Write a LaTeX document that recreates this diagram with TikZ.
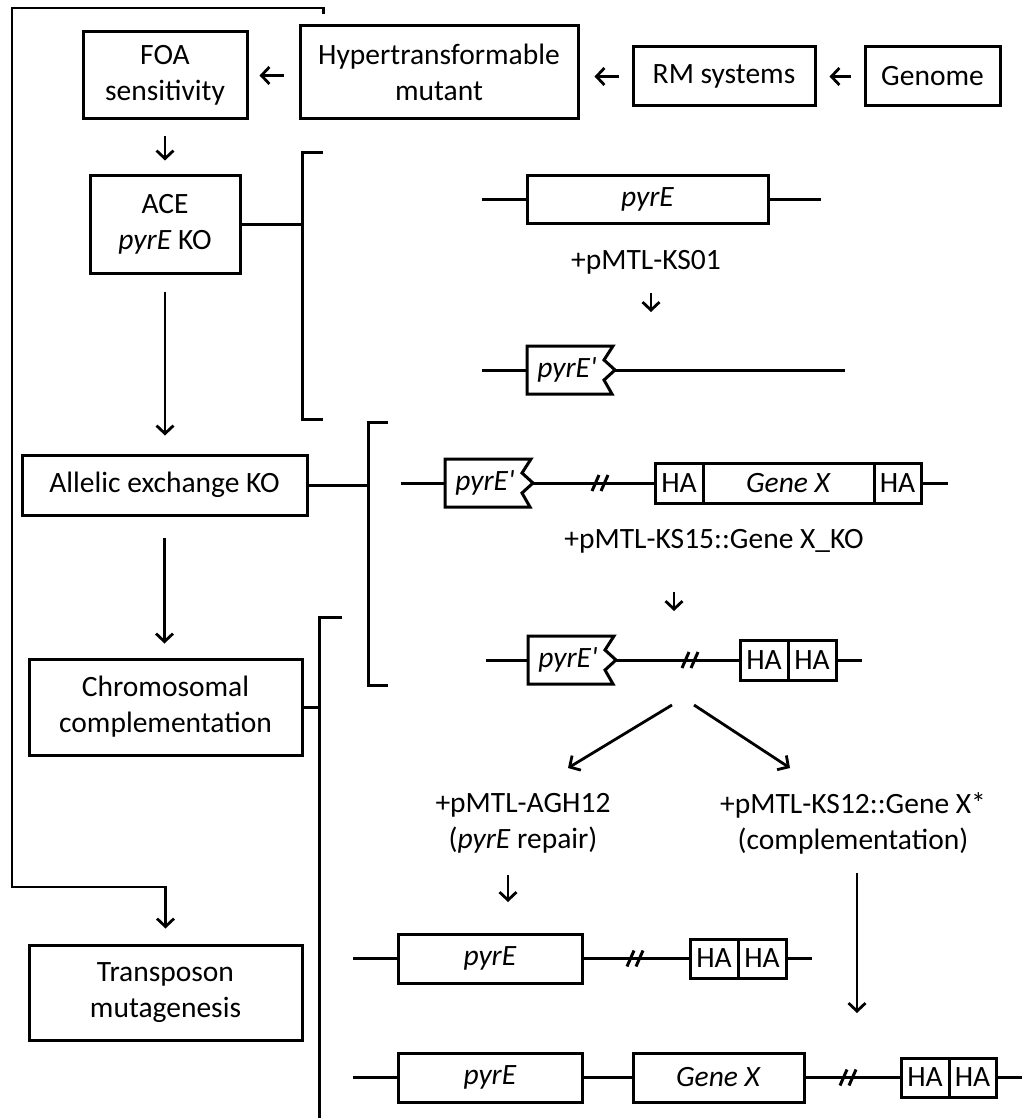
\documentclass[tikz,border=0pt]{standalone}
\usepackage{fontspec}
\setmainfont{Carlito}
\usepackage{tikz}
\usetikzlibrary{arrows.meta}
\usetikzlibrary{calc}

\tikzset{
  gl/.style={line width=3pt},
  arr/.style={line width=2.8pt,-{Straight Barb[length=8pt,width=17pt]}},
  box/.style={draw,line width=3pt,inner sep=0pt,align=center},
  gene/.style={draw,line width=3pt,inner sep=0pt},
  lbl/.style={inner sep=0pt,align=center},
  torn/.pic={
    \draw[gl,fill=white] (0,-24) -- (85,-24) -- (77,-10) -- (88,0) -- (77,10) -- (86,24) -- (0,24) -- cycle;
    \node[lbl] at (40,0) {\textit{pyrE\textquotesingle}};
    \coordinate (-in) at (0,0);
    \coordinate (-out) at (88,0);
  }
}

\begin{document}
\begin{tikzpicture}[x=1pt,y=1pt,yscale=-1,xscale=1,font=\fontsize{29.5}{36}\selectfont]
      \useasboundingbox (0,0) rectangle (1022,1118);
      % left column
      \node (foa) at (165,75.5) [box,minimum width=164,minimum height=87] {FOA\\sensitivity};
      \node (hyp) at (439,72.5) [box,minimum width=278,minimum height=93] {Hypertransformable\\mutant};
      \node (rm) at (724,76.5) [box,minimum width=182,minimum height=59] {RM systems};
      \node (gnm) at (932.5,76.5) [box,minimum width=135,minimum height=59] {Genome};
      \node (ace) at (165,224.5) [box,minimum width=150,minimum height=97] {ACE\\\textit{pyrE} KO};
      \node (ake) at (164.5,485) [box,minimum width=285,minimum height=60] {Allelic exchange KO};
      \node (chc) at (165.5,707) [box,minimum width=273,minimum height=96] {Chromosomal\\complementation};
      \node (tnm) at (165.5,992.5) [box,minimum width=273,minimum height=95] {Transposon\\mutagenesis};
      \draw[arr,shorten <=13pt,shorten >=13pt] (gnm.west) -- (rm.east);
      \draw[arr,shorten <=13pt,shorten >=15pt] (rm.west) -- (hyp.east |- rm.west);
      \draw[arr,shorten <=15pt,shorten >=11pt] (hyp.west |- foa.east) -- (foa.east);
      \draw[arr,shorten <=16pt,shorten >=14pt] (foa.south) -- (ace.north);
      \draw[arr,shorten <=17pt,shorten >=18pt] (ace.south) -- (ake.north -| ace.south);
      \draw[arr,shorten <=21pt,shorten >=14pt] (ake.south) -- (chc.north -| ake.south);
      \coordinate (otop) at (12,8);
      \coordinate (obot) at (12,887);
      \draw[arr,shorten >=15pt] ($(hyp.north west)+(25,-10)$) |- (otop) -- (obot) -| (tnm.north);
      % brackets
      \coordinate (br1) at (302,153);
      \coordinate (br2) at (368,422);
      \coordinate (br3) at (319,617);
      \draw[gl] (323,153) -- (br1) -- (302,419) -- (323,419);
      \draw[gl] (388,422) -- (br2) -- (368,685) -- (388,685);
      \draw[gl] (342,617) -- (br3) -- (319,1118);
      \draw[gl] (ace.east) -- (ace.east -| br1);
      \draw[gl] (ake.east) -- (ake.east -| br2);
      \draw[gl] (chc.east) -- (chc.east -| br3);
      % pyrE knock-out
      \node (p1) at (647.5,199.5) [gene,minimum width=241,minimum height=47] {\textit{pyrE}};
      \coordinate (p1l) at (482,199.5);
      \coordinate (p1r) at (821,199.5);
      \draw[gl] (p1l) -- (p1.west) (p1.east) -- (p1r);
      \node (ks01) at (646,262) [lbl] {+pMTL-KS01};
      \draw[arr] (ks01) ++(5,31) -- ++(0,19);
      \pic (t1) at (527,370) {torn};
      \coordinate (p2l) at (482,370);
      \coordinate (p2r) at (845,370);
      \draw[gl] (p2l) -- (t1-in) (t1-out) -- (p2r);
      % allelic exchange
      \pic (t2) at (445,483) {torn};
      \coordinate (al) at (401,483);
      \node (ha1) at (679,483) [gene,minimum width=48,minimum height=40] {HA};
      \node (gx1) at (788.5,483) [gene,minimum width=171,minimum height=40] {\textit{Gene X}};
      \node (ha2) at (897.5,483) [gene,minimum width=47,minimum height=40] {HA};
      \coordinate (ar) at (948,483);
      \coordinate (k1) at (600,483);
      \draw[gl] (al) -- (t2-in) (t2-out) -- (ha1.west) (ha2.east) -- (ar);
      \draw[gl] (k1) ++(-8,8) -- ++(7,-16) ++(2,16) -- ++(7,-16);
      \node (ks15) at (714,541) [lbl] {+pMTL-KS15::Gene X\_KO};
      \draw[arr] (ks15) ++(-40,51) -- ++(0,19);
      \pic (t3) at (528,660) {torn};
      \coordinate (bl) at (486,660);
      \node (ha3) at (764,660) [gene,minimum width=48,minimum height=40] {HA};
      \node (ha4) at (812,660) [gene,minimum width=48,minimum height=40] {HA};
      \coordinate (bre) at (862,660);
      \coordinate (k2) at (690,660);
      \draw[gl] (bl) -- (t3-in) (t3-out) -- (ha3.west) (ha4.east) -- (bre);
      \draw[gl] (k2) ++(-8,8) -- ++(7,-16) ++(2,16) -- ++(7,-16);
      % two routes
      \coordinate (sl) at (672,705);
      \coordinate (sr) at (694,705);
      \coordinate (tl) at (568,768);
      \coordinate (tr) at (790,768);
      \draw[arr] (sl) -- (tl);
      \draw[arr] (sr) -- (tr);
      \node (agh) at (523,823) [lbl] {+pMTL-AGH12\\(\textit{pyrE} repair)};
      \node (ks12) at (853,823) [lbl] {+pMTL-KS12::Gene X*\\(complementation)};
      \draw[arr] (agh) ++(-15,52) -- ++(0,27);
      \draw[arr] (ks12) ++(4,50) -- ++(0,140);
      \node (p3) at (490,958.5) [gene,minimum width=184,minimum height=49] {\textit{pyrE}};
      \node (ha5) at (714,958.5) [gene,minimum width=48,minimum height=39] {HA};
      \node (ha6) at (762,958.5) [gene,minimum width=48,minimum height=39] {HA};
      \coordinate (cl) at (353,958.5);
      \coordinate (cr) at (812,958.5);
      \coordinate (k3) at (635,958.5);
      \draw[gl] (cl) -- (p3.west) (p3.east) -- (ha5.west) (ha6.east) -- (cr);
      \draw[gl] (k3) ++(-8,8) -- ++(7,-16) ++(2,16) -- ++(7,-16);
      \node (p4) at (490,1077.5) [gene,minimum width=184,minimum height=49] {\textit{pyrE}};
      \node (gx2) at (718.5,1077.5) [gene,minimum width=171,minimum height=49] {\textit{Gene X}};
      \node (ha7) at (925,1077.5) [gene,minimum width=48,minimum height=39] {HA};
      \node (ha8) at (972.5,1077.5) [gene,minimum width=47,minimum height=39] {HA};
      \coordinate (el) at (353,1077.5);
      \coordinate (er) at (1022,1077.5);
      \coordinate (k4) at (848,1077.5);
      \draw[gl] (el) -- (p4.west) (p4.east) -- (gx2.west) (gx2.east) -- (ha7.west) (ha8.east) -- (er);
      \draw[gl] (k4) ++(-8,8) -- ++(7,-16) ++(2,16) -- ++(7,-16);
\end{tikzpicture}
\end{document}
